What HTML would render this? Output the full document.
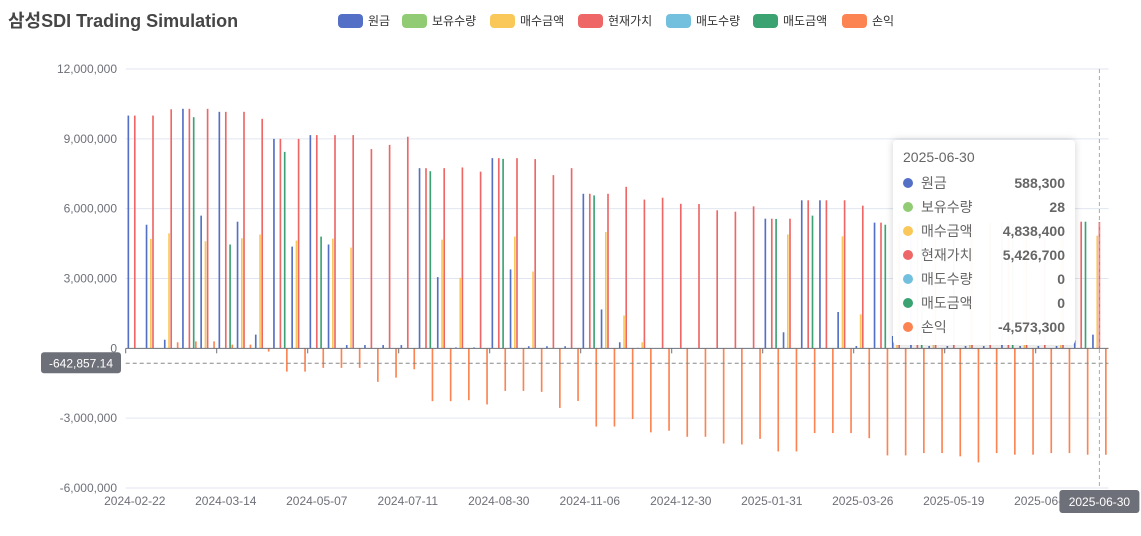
<!DOCTYPE html>
<html><head><meta charset="utf-8">
<style>
html,body{margin:0;padding:0;background:#fff;width:1141px;height:536px;overflow:hidden;font-family:"Liberation Sans","Noto Sans CJK KR",sans-serif;}
svg text{font-family:"Liberation Sans","Noto Sans CJK KR",sans-serif;}
#tooltip{position:absolute;left:893px;top:140px;width:182px;height:205px;background:rgba(255,255,255,0.97);border-radius:4px;box-shadow:0 0 8px rgba(0,0,0,0.18);box-sizing:border-box;padding:9px 10px;font-size:14px;color:#666;}
#tooltip .row{display:flex;align-items:center;height:24px;}
#tooltip .dot{width:10px;height:10px;border-radius:5px;margin-right:8px;}
#tooltip .v{margin-left:auto;font-weight:bold;color:#666;}
</style></head><body>
<svg id="chart" width="1141" height="536" style="position:absolute;left:0;top:0"></svg>
<div id="tooltip">
 <div style="height:22px;font-size:14px;color:#666">2025-06-30</div>
 <div class="row"><span class="dot" style="background:#5470c6"></span>원금<span class="v">588,300</span></div>
 <div class="row"><span class="dot" style="background:#91cc75"></span>보유수량<span class="v">28</span></div>
 <div class="row"><span class="dot" style="background:#fac858"></span>매수금액<span class="v">4,838,400</span></div>
 <div class="row"><span class="dot" style="background:#ee6666"></span>현재가치<span class="v">5,426,700</span></div>
 <div class="row"><span class="dot" style="background:#73c0de"></span>매도수량<span class="v">0</span></div>
 <div class="row"><span class="dot" style="background:#3ba272"></span>매도금액<span class="v">0</span></div>
 <div class="row"><span class="dot" style="background:#fc8452"></span>손익<span class="v">-4,573,300</span></div>
</div>
<script>
const dates=["2024-02-22","2024-02-26","2024-02-28","2024-03-04","2024-03-08","2024-03-14","2024-03-20","2024-03-27","2024-04-03","2024-04-19","2024-05-07","2024-05-16","2024-05-28","2024-06-07","2024-06-24","2024-07-11","2024-07-19","2024-07-26","2024-08-05","2024-08-19","2024-08-30","2024-09-10","2024-09-24","2024-10-07","2024-10-22","2024-11-06","2024-11-15","2024-11-26","2024-12-05","2024-12-17","2024-12-30","2025-01-07","2025-01-14","2025-01-21","2025-01-24","2025-01-31","2025-02-07","2025-02-14","2025-02-25","2025-03-12","2025-03-26","2025-04-03","2025-04-10","2025-04-22","2025-05-07","2025-05-19","2025-05-26","2025-05-30","2025-06-05","2025-06-11","2025-06-16","2025-06-20","2025-06-25","2025-06-30"];
const principal=[10.0,5.31,0.37,10.29,5.70,10.16,5.44,0.59,9.0,4.37,9.16,4.46,0.14,0.14,0.14,0.14,7.74,3.06,0.04,0.04,8.17,3.39,0.09,0.09,0.09,6.64,1.67,0.26,0.02,0,0,0,0,0,0,5.57,0.69,6.36,6.36,1.56,0.10,5.4,0.53,5.4,0.1,0.1,0.1,0.1,5.4,0.1,0.1,0.1,0.34,0.5883];
const holdingQty=[0.00003,0.00003,0.00003,0,0.00003,0,0.00003,0.00003,0,0.00003,0,0.00003,0.00003,0.00003,0.00003,0.00003,0,0.00003,0.00003,0.00003,0,0.00003,0.00003,0.00003,0.00003,0,0.00003,0.00003,0.00003,0.00003,0.00003,0.00003,0.00003,0.00003,0.00003,0,0.00003,0,0.00003,0.00003,0.00003,0,0.00003,0,0.00003,0.00003,0.00003,0.00003,0,0.00003,0.00003,0.00003,0,0.000028];
const buyAmount=[0,4.70,4.94,0,4.6,0,4.73,4.89,0,4.63,0,4.71,4.33,0,0,0,0,4.67,3.03,0,0,4.8,3.3,0,0,0,5.0,1.41,0.26,0,0,0,0,0,0,0,4.89,0,0,4.81,1.46,0,4.8,0,4.8,0,4.8,0,0,4.8,0,4.8,0,4.8384];
const currentValue=[10.0,10.0,10.27,10.29,10.29,10.16,10.16,9.86,9.0,9.0,9.16,9.16,9.16,8.56,8.74,9.09,7.74,7.74,7.77,7.59,8.17,8.17,8.13,7.44,7.74,6.64,6.64,6.94,6.39,6.47,6.21,6.2,5.93,5.87,6.1,5.57,5.57,6.36,6.36,6.36,6.13,5.4,5.4,5.4,5.4,5.4,5.4,5.4,5.4,5.4,5.4,5.4,5.44,5.4267];
const sellQty=[0,0,0,0.00003,0,0.00003,0,0,0.00003,0,0.00003,0,0,0,0,0,0.00003,0,0,0,0.00003,0,0,0,0,0.00003,0,0,0,0,0,0,0,0,0,0.00003,0,0.00003,0,0,0,0.00003,0,0.00003,0,0,0,0,0.00003,0,0,0,0.00003,0];
const sellAmount=[0,0,0,9.93,0,4.46,0,0,8.44,0,4.8,0,0,0,0,0,7.61,0,0,0,8.14,0,0,0,0,6.57,0,0,0,0,0,0,0,0,0,5.56,0,5.7,0,0,0,5.31,0,5.35,0,0,0,0,5.35,0,0,0,5.44,0];
const pnl=[0,0,0.26,0.3,0.3,0.16,0.16,-0.14,-1.0,-1.0,-0.84,-0.84,-0.84,-1.44,-1.26,-0.9,-2.27,-2.27,-2.23,-2.41,-1.83,-1.83,-1.87,-2.56,-2.26,-3.36,-3.36,-3.04,-3.61,-3.54,-3.8,-3.8,-4.09,-4.13,-3.89,-4.43,-4.43,-3.64,-3.64,-3.64,-3.86,-4.6,-4.6,-4.5,-4.5,-4.64,-4.9,-4.5,-4.57,-4.57,-4.5,-4.5,-4.57,-4.5733];
const seriesNames=["원금","보유수량","매수금액","현재가치","매도수량","매도금액","손익"];
const seriesColors=["#5470c6","#91cc75","#fac858","#ee6666","#73c0de","#3ba272","#fc8452"];
const yTicks=[-6,-3,0,3,6,9,12];
const yTickLabels=["-6,000,000","-3,000,000","0","3,000,000","6,000,000","9,000,000","12,000,000"];
const markLineValue=-0.64285714;

const NS="http://www.w3.org/2000/svg";
const svg=document.getElementById('chart');
function mk(tag,attrs,parent){const e=document.createElementNS(NS,tag);for(const k in attrs)e.setAttribute(k,attrs[k]);(parent||svg).appendChild(e);return e;}
const X0=125.7,X1=1108.5,YT=69,YB=488,VMIN=-6,VMAX=12;
const N=dates.length,band=(X1-X0)/N;
function yScale(v){return YB-(v-VMIN)/(VMAX-VMIN)*(YB-YT);}
function xCenter(i){return X0+band*(i+0.5);}

// title
const t=mk('text',{x:8,y:27,'font-size':18,'font-weight':'bold',fill:'#464646'});


t.textContent="삼성SDI Trading Simulation";

// legend
const legIcon=[338,402,490,578,666,753,842];
seriesNames.forEach((n,i)=>{
  const g=mk('g',{});
  
  
  mk('rect',{x:legIcon[i],y:14,width:25,height:14,rx:4,fill:seriesColors[i]},g);
  const tx=mk('text',{x:legIcon[i]+30,y:25,'font-size':12,fill:'#333'},g);
  tx.textContent=n;
});

// grid + y labels
yTicks.forEach((v,i)=>{
  const y=yScale(v);
  if(v!==0){const l=mk('line',{x1:X0,x2:X1,y1:y,y2:y,stroke:'#e0e6f1','stroke-width':1});
  
  }
  const tx=mk('text',{x:117,y:y+4,'font-size':12,fill:'#6e7079','text-anchor':'end'});
  
  
  tx.textContent=yTickLabels[i];
});

// bars
const series=[principal,holdingQty,buyAmount,currentValue,sellQty,sellAmount,pnl];
const usable=band*0.8,bw=usable/(7+6*0.3),gap=bw*0.3;
series.forEach((arr,s)=>{
  arr.forEach((v,i)=>{
    const x=xCenter(i)-usable/2+s*(bw+gap);
    const y0=yScale(0),y1=yScale(v);
    const r=mk('rect',{x:x.toFixed(2),y:Math.min(y0,y1).toFixed(2),width:bw.toFixed(2),height:Math.abs(y1-y0).toFixed(2),fill:seriesColors[s]});
    
    
  });
});

// x axis
const ax=mk('line',{x1:X0,x2:X1,y1:yScale(0),y2:yScale(0),stroke:'#6e7079','stroke-width':1});


for(let i=0;i<=N;i+=5){
  const x=X0+band*i;
  const tk=mk('line',{x1:x,x2:x,y1:yScale(0),y2:yScale(0)+5,stroke:'#6e7079'});
  
  
  if(i<N){
    const tx=mk('text',{x:xCenter(i),y:505,'font-size':12,fill:'#6e7079','text-anchor':'middle'});
    
    
    tx.textContent=dates[i];
  }
}

// mark line (average)
const my=yScale(markLineValue);
const ml=mk('line',{x1:X0,x2:X1,y1:my,y2:my,stroke:'#888','stroke-dasharray':'4,3','stroke-width':1});


const mb=mk('rect',{x:41,y:my-11,width:80,height:21,rx:3,fill:'#6e7079'});


const mt=mk('text',{x:81,y:my+4,'font-size':12,fill:'#fff','text-anchor':'middle'});


mt.textContent="-642,857.14";

// crosshair
const cx=xCenter(N-1);
const ch=mk('line',{x1:cx,x2:cx,y1:YT,y2:YB,stroke:'#aaa','stroke-dasharray':'4,3','stroke-width':1});


const cb=mk('rect',{x:cx-40,y:490,width:80,height:23,rx:3,fill:'#6e7079'});


const ct=mk('text',{x:cx,y:506,'font-size':12,fill:'#fff','text-anchor':'middle'});


ct.textContent=dates[N-1];
</script>
</body></html>
